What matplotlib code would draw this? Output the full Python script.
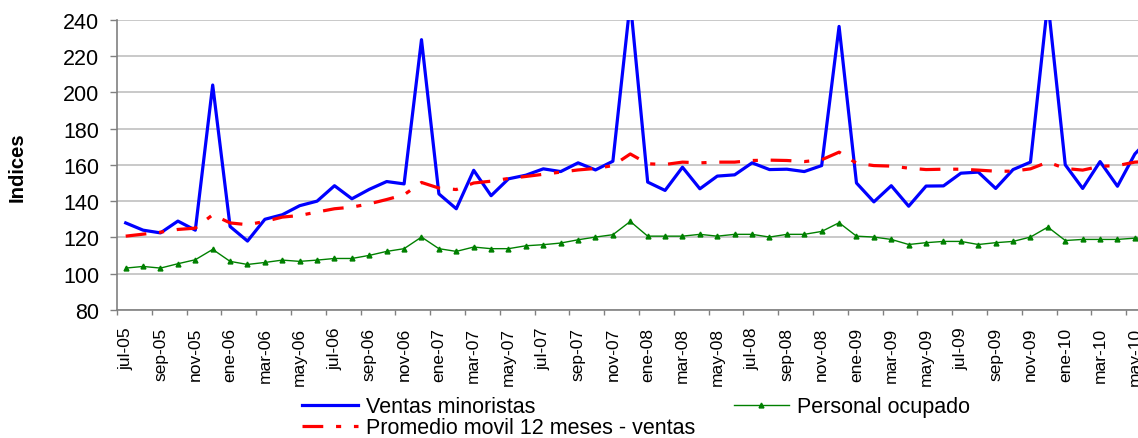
import numpy as np
import matplotlib
matplotlib.use("Agg")
import matplotlib.pyplot as plt

plt.rcParams['font.family'] = ['Liberation Sans', 'DejaVu Sans']

# monthly series, jul-05 .. jun-10
mes = ['ene', 'feb', 'mar', 'abr', 'may', 'jun', 'jul', 'ago', 'sep', 'oct', 'nov', 'dic']
labels = []
for k in range(60):
    m = (6 + k) % 12
    y = 5 + (6 + k) // 12
    labels.append(f"{mes[m]}-{y:02d}")

ventas = [128, 124, 122.5, 129, 124, 204, 126, 118, 130, 132.5,
          137.5, 140, 148.5, 141.3, 146.5, 150.8, 149.5, 229, 144, 135.8,
          157, 143, 152.3, 154.3, 157.8, 156.3, 161.1, 157.2, 162, 250,
          150.5, 145.9, 158.7, 146.8, 153.8, 154.5, 161.1, 157.4, 157.6, 156.3,
          159.6, 236.3, 150, 139.6, 148.5, 137.2, 148.3, 148.4, 155.4, 156,
          147, 157.4, 161.5, 250, 160, 147, 161.8, 148.2, 166, 176]

promedio = [120.7, 121.8, 122.9, 124.4, 125.1, 132.5, 128, 127, 128.8, 131.2,
            132.1, 134, 135.8, 136.7, 138.5, 140.9, 143.5, 150.3, 147.2, 146.4,
            150, 151, 152.5, 153.6, 154.8, 156, 157.2, 158, 159.6, 166,
            160.6, 160.2, 161.5, 161.1, 161.5, 161.5, 162.4, 162.6, 162.4, 161.8,
            162.8, 167, 160.9, 159.6, 159.3, 158.2, 157.4, 157.6, 157.6, 157.1,
            156.5, 156.5, 157.8, 161.5, 158, 157.1, 159.2, 159.6, 161.5, 162]

personal = [103.1, 104, 103.1, 105.5, 107.7, 113.4, 106.8, 105.1, 106.2, 107.5,
            106.8, 107.5, 108.4, 108.4, 110.1, 112.3, 113.8, 120.2, 113.8, 112.3,
            114.7, 113.8, 113.8, 115.4, 116, 116.9, 118.7, 120.2, 121.5, 128.8,
            120.7, 120.7, 120.7, 121.7, 120.7, 121.7, 121.7, 120.2, 121.7, 121.7,
            123.3, 128.1, 120.7, 120.2, 118.9, 116.1, 117.1, 117.8, 117.8, 116.1,
            117.1, 117.8, 120.2, 125.7, 118.3, 118.9, 118.9, 118.9, 119.6, 119.8]

W, H = 1138, 439
fig = plt.figure(figsize=(W / 100, H / 100), dpi=100)
ax = fig.add_axes([117 / W, (H - 311) / H, (W - 117) / W, (311 - 20.7) / H])

x = np.arange(len(ventas))
l1, = ax.plot(x, ventas, color='#0000FF', lw=2.3, solid_joinstyle='round',
              label='Ventas minoristas', zorder=3)
l3, = ax.plot(x, personal, color='#008000', lw=1.0, marker='^', ms=3.5,
              label='Personal ocupado', zorder=3)
l2, = ax.plot(x, promedio, color='#FF0000', lw=2.3, dashes=(6.5, 4, 1.6, 4),
              dash_capstyle='butt', label='Promedio movil 12 meses - ventas', zorder=4)

ax.set_xlim(-0.5, 58.18)
ax.set_ylim(80, 240)
ax.set_yticks(range(80, 241, 20))
ax.set_xticks(x[::2])
ax.set_xticklabels(labels[::2], rotation=90, fontsize=12.5)
ax.set_xticks(np.arange(-0.5, 59, 2), minor=True)

ax.tick_params(axis='x', which='major', length=0, pad=12)
ax.tick_params(axis='x', which='minor', length=3.6, width=1, color='#808080')
ax.tick_params(axis='y', length=5, width=1, color='#808080', pad=7.7, labelsize=15.5)

ax.grid(axis='y', color='#c0c0c0', lw=1.2)
ax.set_axisbelow(True)
for s in ['top', 'right']:
    ax.spines[s].set_visible(False)
for s in ['left', 'bottom']:
    ax.spines[s].set_color('#808080')
    ax.spines[s].set_linewidth(1.2)

fig.text(16.7 / W, 1 - 166.7 / H, 'Indices', rotation=90, fontweight='bold',
         fontsize=14.6, ha='center', va='center')

fig.legend([l1, l2, l3], [l1.get_label(), l2.get_label(), l3.get_label()],
           loc='upper left', bbox_to_anchor=(302 / W, 1 - 397.5 / H), ncol=2,
           frameon=False, fontsize=15.5, handlelength=2.6, handletextpad=0.35,
           columnspacing=1.8, labelspacing=0.0, borderpad=0, borderaxespad=0)

fig.savefig('out.png', dpi=100)
